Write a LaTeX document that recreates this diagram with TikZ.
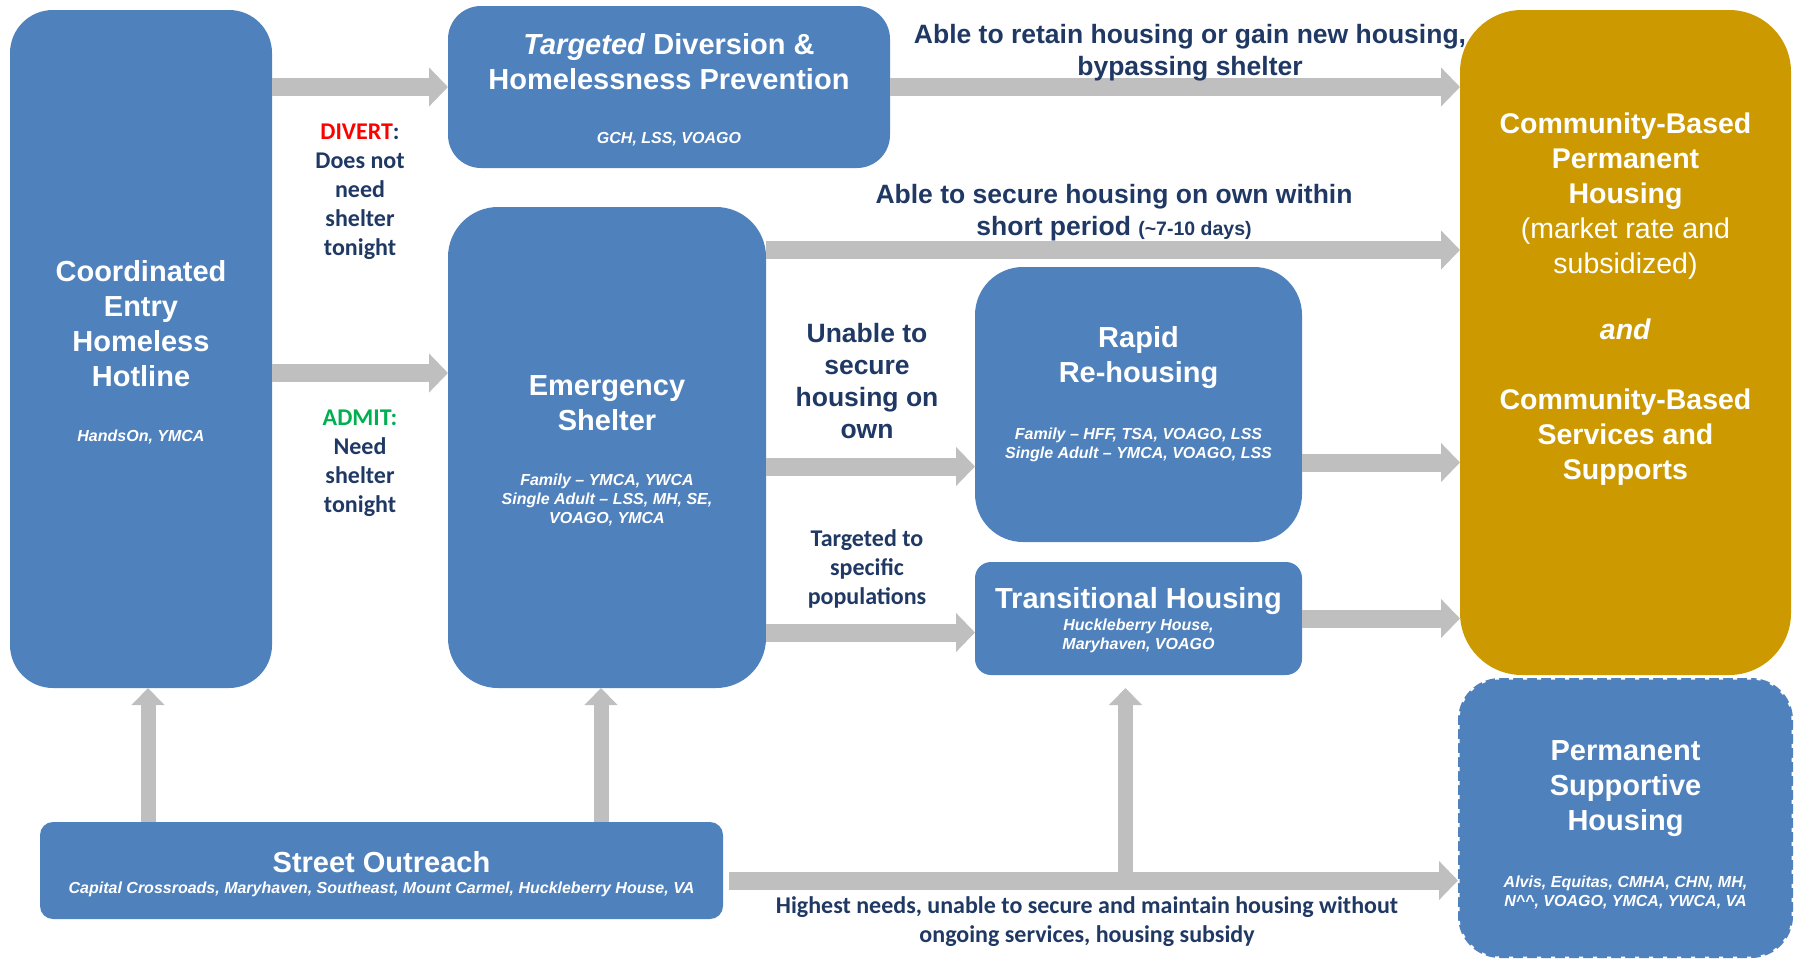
\documentclass[tikz,border=0pt]{standalone}
\usepackage{fontspec}
\setmainfont{Liberation Sans}
\newfontfamily\calibri{Carlito}
\usepackage{xcolor}
\usepackage{tikz}
\usetikzlibrary{arrows.meta}

\definecolor{azulcaja}{RGB}{79,129,189}
\definecolor{oro}{RGB}{204,153,0}
\definecolor{gris}{RGB}{191,191,191}
\definecolor{azultexto}{RGB}{31,56,100}
\definecolor{rojo}{RGB}{255,0,0}
\definecolor{verde}{RGB}{0,176,80}

\tikzset{
  caja/.style={fill=azulcaja, draw=none, inner sep=0pt, outer sep=0pt},
  punteada/.style={caja, draw=white, line width=3pt, dash pattern=on 4pt off 10pt},
  titulo/.style={text=white, align=center, font=\fontsize{29}{35}\selectfont\bfseries},
  detalle/.style={text=white, align=center, font=\fontsize{16}{19}\selectfont\bfseries\itshape},
  etiqueta/.style={text=azultexto, align=center, font=\calibri\fontsize{24}{29}\selectfont\bfseries},
  rotulo/.style={text=azultexto, align=center, font=\fontsize{26.5}{32}\selectfont\bfseries},
  flecha/.style={draw=gris, line width=18pt, -{Triangle[width=38pt,length=19pt]}},
  flechav/.style={draw=gris, line width=15pt, -{Triangle[width=32pt,length=17pt]}}
}

\begin{document}
\begin{tikzpicture}[x=1pt,y=-1pt]
        \useasboundingbox (0,0) rectangle (1801,961);

        % Dibuja las cajas
        \node[caja, minimum width=262pt, minimum height=678pt, rounded corners=43pt] (hotline) at (141,349) {};
        \node[caja, minimum width=442pt, minimum height=162pt, rounded corners=33pt] (diversion) at (669,87) {};
        \node[caja, minimum width=318pt, minimum height=481pt, rounded corners=50pt] (shelter) at (607,447.5) {};
        \node[caja, minimum width=327pt, minimum height=275pt, rounded corners=48pt] (rapid) at (1138.5,404.5) {};
        \node[caja, minimum width=327pt, minimum height=113pt, rounded corners=16pt] (transitional) at (1138.5,618.5) {};
        \node[caja, fill=oro, minimum width=331pt, minimum height=665pt, rounded corners=62pt] (community) at (1625.5,342.5) {};
        \node[punteada, minimum width=335pt, minimum height=280pt, rounded corners=42pt] (supportive) at (1625.5,818) {};
        \node[caja, minimum width=683pt, minimum height=97pt, rounded corners=13pt] (outreach) at (381.5,870.5) {};

        % Puntos auxiliares para las flechas
        \coordinate (hs) at ([xshift=7pt]hotline.south);
        \coordinate (ss) at ([xshift=-6pt]shelter.south);
        \coordinate (so) at ([shift={(6pt,-10pt)}]outreach.east);
        \coordinate (ts) at ([shift={(-13pt,-13pt)}]transitional.south);

        % Dibuja las flechas
        \draw[flecha] (hotline.east |- diversion.west) -- (diversion.west);
        \draw[flecha] ([yshift=-24pt]hotline.east) -- ([yshift=-24pt]hotline.east -| shelter.west);
        \draw[flecha] (diversion.east) -- (diversion.east -| community.west);
        \draw[flecha] ([yshift=-43pt]shelter.north east) -- ([yshift=-43pt]shelter.north east -| community.west);
        \draw[flecha] ([yshift=-19pt]shelter.east) -- ([yshift=-19pt]shelter.east -| rapid.west);
        \draw[flecha] ([yshift=-58pt]rapid.east) -- ([yshift=-58pt]rapid.east -| community.west);
        \draw[flecha] ([yshift=-14pt]transitional.west -| shelter.east) -- ([yshift=-14pt]transitional.west);
        \draw[flecha] (transitional.east) -- (transitional.east -| community.west);
        \draw[flechav] (hs |- outreach.north) -- (hs);
        \draw[flechav] (ss |- outreach.north) -- (ss);
        \draw[flechav] (ts |- so) -- (ts);
        \draw[flecha] (so) -- (so -| supportive.west);

        % Textos de las cajas
        \node[titulo] (hotlineT) at (141,324) {Coordinated\\Entry\\Homeless\\Hotline};
        \node[detalle] (hotlineD) at (141,437) {HandsOn, YMCA};
        \node[titulo] (diversionT) at (669,62) {\textit{Targeted} Diversion \&\\Homelessness Prevention};
        \node[detalle] (diversionD) at (669,139) {GCH, LSS, VOAGO};
        \node[titulo] (shelterT) at (607,403) {Emergency\\Shelter};
        \node[detalle] (shelterD) at (607,500) {Family -- YMCA, YWCA\\Single Adult -- LSS, MH, SE,\\VOAGO, YMCA};
        \node[titulo] (rapidT) at (1138.5,358) {Rapid\\Re-housing};
        \node[detalle] (rapidD) at (1138.5,445) {Family -- HFF, TSA, VOAGO, LSS\\Single Adult -- YMCA, VOAGO, LSS};
        \node[titulo] (transitionalT) at (1138.5,601.5) {Transitional Housing};
        \node[detalle] (transitionalD) at (1138.5,636) {Huckleberry House,\\Maryhaven, VOAGO};
        \node[titulo, font=\fontsize{28.5}{35}\selectfont\bfseries] (communityT) at (1625.5,299)
          {Community-Based\\Permanent\\Housing\\{\mdseries (market rate and}\\{\mdseries subsidized)}\\[31pt]\textit{and}\\[35pt]Community-Based\\Services and\\Supports};
        \node[titulo] (supportiveT) at (1625.5,789) {Permanent\\Supportive\\Housing};
        \node[detalle] (supportiveD) at (1625.5,892) {Alvis, Equitas, CMHA, CHN, MH,\\N\textasciicircum\textasciicircum, VOAGO, YMCA, YWCA, VA};
        \node[titulo] (outreachT) at (381.5,862) {Street Outreach};
        \node[detalle] (outreachD) at (381.5,889) {Capital Crossroads, Maryhaven, Southeast, Mount Carmel, Huckleberry House, VA};

        % Etiquetas de las flechas
        \node[etiqueta] (divert) at (360,192) {\textcolor{rojo}{DIVERT}:\\Does not\\need\\shelter\\tonight};
        \node[etiqueta] (admit) at (360,463) {\textcolor{verde}{ADMIT:}\\Need\\shelter\\tonight};
        \node[rotulo] (retain) at (1190,53) {Able to retain housing or gain new housing,\\bypassing shelter};
        \node[rotulo] (secure) at (1114,213) {Able to secure housing on own within\\short period {\fontsize{19.5}{32}\selectfont(\textasciitilde7-10 days)}};
        \node[rotulo] (unable) at (867,381) {Unable to\\secure\\housing on\\own};
        \node[etiqueta] (targeted) at (867,569) {Targeted to\\specific\\populations};
        \node[etiqueta] (highest) at (1087,922) {Highest needs, unable to secure and maintain housing without\\ongoing services, housing subsidy};
    \end{tikzpicture}
\end{document}
